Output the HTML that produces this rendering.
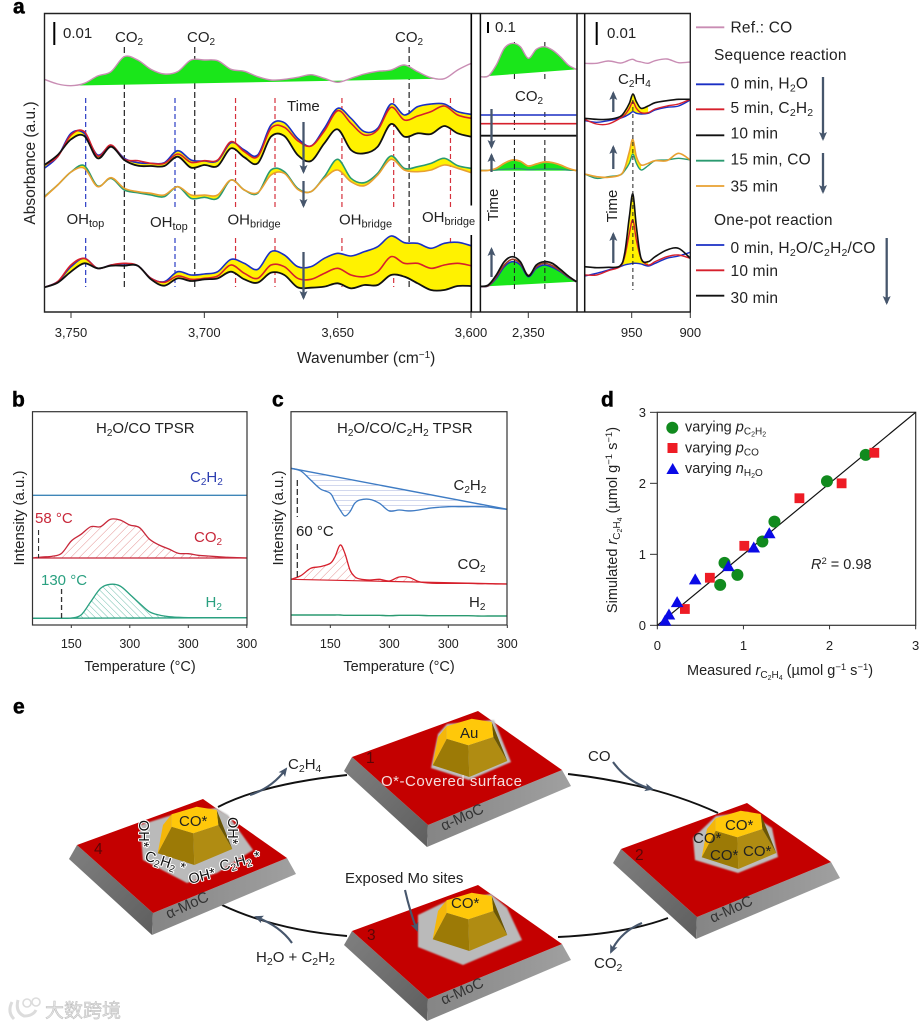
<!DOCTYPE html>
<html lang="en">
<head>
<meta charset="utf-8">
<title>Absorbance, TPSR, kinetics and reaction cycle figure</title>
<style>
html,body{margin:0;padding:0;background:#fff;width:921px;height:1027px;overflow:hidden}
svg{display:block;font-family:"Liberation Sans","Noto Sans CJK SC",sans-serif;fill:#222}
text{stroke:none}
.a{font-size:15px}
.lg{font-size:15.5px;letter-spacing:.2px}
.tick{font-size:12.5px}
.axt{font-size:14.5px}
.pl{font-size:21px;font-weight:700;fill:#000;stroke:#000;stroke-width:.5px}
.e{font-size:15px}
.halo{paint-order:stroke;stroke:#fff;stroke-width:2px;stroke-linejoin:round;fill:#111;font-size:14.5px}
</style>
</head>
<body>
<svg id="figure" xmlns="http://www.w3.org/2000/svg" width="921" height="1027" viewBox="0 0 921 1027">
<defs>
<pattern id="hatchRed" patternUnits="userSpaceOnUse" width="6" height="6" patternTransform="rotate(-45)"><line x1="0" y1="0" x2="6" y2="0" stroke="#d77" stroke-width="0.8"/></pattern>
<pattern id="hatchGreen" patternUnits="userSpaceOnUse" width="4.5" height="4.5" patternTransform="rotate(45)"><line x1="0" y1="0" x2="4.5" y2="0" stroke="#4fb09a" stroke-width="0.8"/></pattern>
<pattern id="hatchBlue" patternUnits="userSpaceOnUse" width="6" height="5"><line x1="0" y1="0" x2="6" y2="0" stroke="#8f9ed6" stroke-width="0.8"/></pattern>
<marker id="headDark" markerWidth="10" markerHeight="9" refX="7" refY="4" orient="auto" markerUnits="userSpaceOnUse"><path d="M0,0 L9,4 L0,8 L2,4 Z" fill="#46566c"/></marker>
<linearGradient id="sideL" x1="0" y1="0" x2="1" y2="1"><stop offset="0" stop-color="#808080"/><stop offset="1" stop-color="#5e5e5e"/></linearGradient>
<linearGradient id="sideR" x1="0" y1="0" x2="1" y2="0"><stop offset="0" stop-color="#858585"/><stop offset="1" stop-color="#a0a0a0"/></linearGradient>
<filter id="soft" x="-10%" y="-10%" width="120%" height="120%"><feGaussianBlur stdDeviation="0.9"/></filter>
<g id="slab">
<polygon points="77,845 153,913 152,935 69,859" fill="url(#sideL)"/>
<polygon points="153,913 287,858 296,874 152,935" fill="url(#sideR)"/>
<polygon points="77,845 203,799 287,858 153,913" fill="#c40000"/>
</g>
<g id="pyramid">
<polygon points="171.7,826.7 193.3,833.3 194.3,865 157.7,853.3" fill="#9c7a06"/>
<polygon points="193.3,833.3 218.3,825 232.3,849 194.3,865" fill="#b08c12"/>
<polygon points="216.7,810 232.3,849 218.3,825" fill="#6a5604"/>
<polygon points="171.7,814.3 163,825 157.7,853.3 171.7,826.7" fill="#f4b70a"/>
<polygon points="171.7,814.3 196.7,806.7 216.7,810 218.3,825 193.3,833.3 171.7,826.7" fill="#ffc80a"/>
</g>
</defs>

<!-- PANEL A -->
<text class="pl" x="13" y="13.5">a</text>
<g id="a-dashes"></g>
<g id="a-series"></g>
<g stroke="#222" fill="none">
<path d="M44.5,13.5 H690.3 V312 H44.5 Z" stroke-width="1.4"/>
<path d="M471.3,13.5 V205.5 M471.3,235 V312" stroke="#000" stroke-width="1.6"/>
<path d="M480.4,13.5 V312 M577,13.5 V312 M584.7,13.5 V312" stroke="#111" stroke-width="1.5"/>
</g>
<g id="a-axis"></g>
<text class="axt" x="297" y="363" style="font-size:15.5px">Wavenumber (cm<tspan dy="-5" font-size="10">−1</tspan><tspan dy="5">)</tspan></text>
<text class="a" transform="translate(35,163) rotate(-90)" text-anchor="middle" style="font-size:15.5px">Absorbance (a.u.)</text>

<g stroke="#000" stroke-width="2">
<line x1="54.3" y1="22" x2="54.3" y2="45"/>
<line x1="488" y1="22" x2="488" y2="33"/>
<line x1="596.7" y1="22" x2="596.7" y2="45"/>
</g>
<g class="a">
<text class="a" x="63" y="38">0.01</text>
<text class="a" x="495" y="32">0.1</text>
<text class="a" x="607" y="38">0.01</text>
<text class="a" x="115" y="42">CO<tspan dy="3" font-size="10">2</tspan></text>
<text class="a" x="187" y="42">CO<tspan dy="3" font-size="10">2</tspan></text>
<text class="a" x="395" y="42">CO<tspan dy="3" font-size="10">2</tspan></text>
<text class="a" x="515" y="101">CO<tspan dy="3" font-size="10">2</tspan></text>
<text class="a" x="618" y="84">C<tspan dy="3" font-size="10">2</tspan><tspan dy="-3">H</tspan><tspan dy="3" font-size="10">4</tspan></text>
<text class="a" x="287" y="111">Time</text>
<text class="a" transform="translate(498,205) rotate(-90)" text-anchor="middle">Time</text>
<text class="a" transform="translate(617,206) rotate(-90)" text-anchor="middle">Time</text>
<text class="a" x="66.5" y="224">OH<tspan dy="3" font-size="11">top</tspan></text>
<text class="a" x="150" y="227">OH<tspan dy="3" font-size="11">top</tspan></text>
<text class="a" x="227.5" y="224.5">OH<tspan dy="3" font-size="11">bridge</tspan></text>
<text class="a" x="339" y="224.5">OH<tspan dy="3" font-size="11">bridge</tspan></text>
<text class="a" x="422" y="222">OH<tspan dy="3" font-size="11">bridge</tspan></text>
</g>
<g stroke="#46566c" stroke-width="2.3" fill="none">
<line x1="303.5" y1="122" x2="303.5" y2="172" marker-end="url(#headDark)"/>
<line x1="303.5" y1="181" x2="303.5" y2="206" marker-end="url(#headDark)"/>
<line x1="303.5" y1="252" x2="303.5" y2="298" marker-end="url(#headDark)"/>
<line x1="491.5" y1="109" x2="491.5" y2="147" marker-end="url(#headDark)"/>
<line x1="491.5" y1="172" x2="491.5" y2="155" marker-end="url(#headDark)"/>
<line x1="491.5" y1="277" x2="491.5" y2="249" marker-end="url(#headDark)"/>
<line x1="613.3" y1="112" x2="613.3" y2="93" marker-end="url(#headDark)"/>
<line x1="613.3" y1="169" x2="613.3" y2="147" marker-end="url(#headDark)"/>
<line x1="613.3" y1="263" x2="613.3" y2="234" marker-end="url(#headDark)"/>
<line x1="823" y1="77" x2="823" y2="139" marker-end="url(#headDark)"/>
<line x1="823" y1="153" x2="823" y2="192" marker-end="url(#headDark)"/>
<line x1="886.7" y1="238" x2="886.7" y2="303" marker-end="url(#headDark)"/>
</g>

<!-- PANEL A LEGEND -->
<g stroke-width="1.8">
<line x1="696" x2="724.3" y1="27.3" y2="27.3" stroke="#c98db4"/>
<line x1="696" x2="724.3" y1="84.3" y2="84.3" stroke="#1a2fc4"/>
<line x1="696" x2="724.3" y1="109.3" y2="109.3" stroke="#d6202c"/>
<line x1="696" x2="724.3" y1="135.3" y2="135.3" stroke="#111"/>
<line x1="696" x2="724.3" y1="160.7" y2="160.7" stroke="#2a9a70"/>
<line x1="696" x2="724.3" y1="186" y2="186" stroke="#e8a030"/>
<line x1="696" x2="724.3" y1="245" y2="245" stroke="#1a2fc4"/>
<line x1="696" x2="724.3" y1="270.3" y2="270.3" stroke="#d6202c"/>
<line x1="696" x2="724.3" y1="295.7" y2="295.7" stroke="#111"/>
<text class="lg" x="730.5" y="32.5">Ref.: CO</text>
<text class="lg" x="714" y="60">Sequence reaction</text>
<text class="lg" x="730.5" y="88.5">0 min, H<tspan dy="3" font-size="10.5">2</tspan><tspan dy="-3">O</tspan></text>
<text class="lg" x="730.5" y="113">5 min, C<tspan dy="3" font-size="10.5">2</tspan><tspan dy="-3">H</tspan><tspan dy="3" font-size="10.5">2</tspan></text>
<text class="lg" x="730.5" y="138.5">10 min</text>
<text class="lg" x="730.5" y="164.5">15 min, CO</text>
<text class="lg" x="730.5" y="191.5">35 min</text>
<text class="lg" x="714" y="225">One-pot reaction</text>
<text class="lg" x="730.5" y="253">0 min, H<tspan dy="3" font-size="10.5">2</tspan><tspan dy="-3">O/C</tspan><tspan dy="3" font-size="10.5">2</tspan><tspan dy="-3">H</tspan><tspan dy="3" font-size="10.5">2</tspan><tspan dy="-3">/CO</tspan></text>
<text class="lg" x="730.5" y="276">10 min</text>
<text class="lg" x="730.5" y="303">30 min</text>
</g>

<!-- PANEL B -->
<text class="pl" x="12" y="406.5">b</text>
<g id="b-plot"></g>
<rect x="32.5" y="411.7" width="214.5" height="213.3" fill="none" stroke="#333" stroke-width="1.2"/>
<g id="b-axis"></g>
<text class="a" x="96" y="433">H<tspan dy="3" font-size="10">2</tspan><tspan dy="-3">O/CO TPSR</tspan></text>
<text class="a" transform="translate(24,518) rotate(-90)" text-anchor="middle">Intensity (a.u.)</text>
<text class="axt" x="140" y="671" text-anchor="middle">Temperature (°C)</text>
<text class="a" x="190" y="482" fill="#2c3db0" style="fill:#2c3db0">C<tspan dy="3" font-size="10">2</tspan><tspan dy="-3">H</tspan><tspan dy="3" font-size="10">2</tspan></text>
<text class="a" x="35" y="523" style="fill:#c8283a">58 °C</text>
<text class="a" x="194" y="542" style="fill:#c8283a">CO<tspan dy="3" font-size="10">2</tspan></text>
<text class="a" x="41" y="585" style="fill:#2aa080">130 °C</text>
<text class="a" x="205.5" y="607" style="fill:#2aa080">H<tspan dy="3" font-size="10">2</tspan></text>

<!-- PANEL C -->
<text class="pl" x="272" y="406.5">c</text>
<g id="c-plot"></g>
<rect x="291" y="411.7" width="216" height="213.3" fill="none" stroke="#333" stroke-width="1.2"/>
<g id="c-axis"></g>
<text class="a" x="337" y="433">H<tspan dy="3" font-size="10">2</tspan><tspan dy="-3">O/CO/C</tspan><tspan dy="3" font-size="10">2</tspan><tspan dy="-3">H</tspan><tspan dy="3" font-size="10">2</tspan><tspan dy="-3"> TPSR</tspan></text>
<text class="a" transform="translate(283,518) rotate(-90)" text-anchor="middle">Intensity (a.u.)</text>
<text class="axt" x="399" y="671" text-anchor="middle">Temperature (°C)</text>
<text class="a" x="453.5" y="490">C<tspan dy="3" font-size="10">2</tspan><tspan dy="-3">H</tspan><tspan dy="3" font-size="10">2</tspan></text>
<text class="a" x="296" y="536">60 °C</text>
<text class="a" x="457.5" y="569">CO<tspan dy="3" font-size="10">2</tspan></text>
<text class="a" x="469" y="607">H<tspan dy="3" font-size="10">2</tspan></text>

<!-- PANEL D -->
<text class="pl" x="601" y="406.5">d</text>
<rect x="657.3" y="412.3" width="258.4" height="213" fill="none" stroke="#333" stroke-width="1.2"/>
<g id="d-plot"></g>
<text class="axt" transform="translate(617,520) rotate(-90)" text-anchor="middle">Simulated <tspan font-style="italic">r</tspan><tspan dy="3" font-size="10">C</tspan><tspan dy="2" font-size="7">2</tspan><tspan dy="-2" font-size="10">H</tspan><tspan dy="2" font-size="7">4</tspan><tspan dy="-5"> (µmol g</tspan><tspan dy="-5" font-size="9.5">−1</tspan><tspan dy="5"> s</tspan><tspan dy="-5" font-size="9.5">−1</tspan><tspan dy="5">)</tspan></text>
<text class="axt" x="687" y="675">Measured <tspan font-style="italic">r</tspan><tspan dy="3" font-size="10">C</tspan><tspan dy="2" font-size="7">2</tspan><tspan dy="-2" font-size="10">H</tspan><tspan dy="2" font-size="7">4</tspan><tspan dy="-5"> (µmol g</tspan><tspan dy="-5" font-size="9.5">−1</tspan><tspan dy="5"> s</tspan><tspan dy="-5" font-size="9.5">−1</tspan><tspan dy="5">)</tspan></text>
<text class="axt" x="811" y="569"><tspan font-style="italic">R</tspan><tspan dy="-5" font-size="9.5">2</tspan><tspan dy="5"> = 0.98</tspan></text>
<g>
<circle cx="672.3" cy="427.7" r="6" fill="#118a1e"/>
<rect x="667.5" y="443" width="10" height="10" fill="#ee1c25"/>
<polygon points="672.7,463 679,474 666.4,474" fill="#0a0ae6"/>
<text class="axt" x="685" y="431.5">varying <tspan font-style="italic">p</tspan><tspan dy="3" font-size="10">C</tspan><tspan dy="2" font-size="7">2</tspan><tspan dy="-2" font-size="10">H</tspan><tspan dy="2" font-size="7">2</tspan></text>
<text class="axt" x="685" y="452.5">varying <tspan font-style="italic">p</tspan><tspan dy="3" font-size="10">CO</tspan></text>
<text class="axt" x="685" y="473">varying <tspan font-style="italic">n</tspan><tspan dy="3" font-size="10">H</tspan><tspan dy="2" font-size="7">2</tspan><tspan dy="-2" font-size="10">O</tspan></text>
</g>

<!-- PANEL E -->
<text class="pl" x="13" y="713.5">e</text>
<g fill="none" stroke="#111" stroke-width="1.9">
<path d="M218,807 Q262,784 347,775"/>
<path d="M568,774 Q655,784 718,813"/>
<path d="M668,918 Q625,934 558,937"/>
<path d="M347,936 Q275,930 222,905"/>
</g>

<g transform="translate(275,-88)">
<use href="#slab"/>
<polygon points="163,822 156,856 194,868 236,850 219,808 172,812" fill="#bdbdbd" filter="url(#soft)"/>
<use href="#pyramid"/>
<text class="e" transform="translate(168.5,919) rotate(-24.5)" style="fill:#333">α-MoC</text>
</g>
<g transform="translate(544,4)">
<use href="#slab"/>
<polygon points="149,834 151,856 194,869 234,853 228,824 204,808 172,812" fill="#bdbdbd" filter="url(#soft)"/>
<use href="#pyramid"/>
<text class="e" transform="translate(168.5,919) rotate(-24.5)" style="fill:#333">α-MoC</text>
</g>
<g transform="translate(275,86)">
<use href="#slab"/>
<polygon points="143,829 143,861 188,879 247,854 232,822 216,808 172,815" fill="#bababa" filter="url(#soft)"/>
<use href="#pyramid"/>
<text class="e" transform="translate(168.5,919) rotate(-24.5)" style="fill:#333">α-MoC</text>
</g>
<g>
<use href="#slab"/>
<polygon points="140,825 143,860 187,883 217,873 253,850 228,815 216,808 172,815" fill="#bababa" filter="url(#soft)"/>
<use href="#pyramid"/>
<text class="e" transform="translate(168.5,919) rotate(-24.5)" style="fill:#333">α-MoC</text>
</g>

<g class="e">
<text class="e" x="366" y="763" style="fill:#5c0505;font-size:15.5px">1</text>
<text class="e" x="635" y="860" style="fill:#5c0505;font-size:15.5px">2</text>
<text class="e" x="367" y="940" style="fill:#5c0505;font-size:15.5px">3</text>
<text class="e" x="94" y="854" style="fill:#5c0505;font-size:15.5px">4</text>
<text class="e" x="460" y="738">Au</text>
<text class="e" x="381" y="786" textLength="141" style="fill:#f4dede">O*-Covered surface</text>
<text class="e" x="179" y="826">CO*</text>
<text class="e" x="451" y="908">CO*</text>
<text class="e" x="725" y="830">CO*</text>
<text class="e" x="693" y="843">CO*</text>
<text class="e" x="710" y="860">CO*</text>
<text class="e" x="743" y="856">CO*</text>
<text class="halo" transform="translate(139,820) rotate(90)">OH*</text>
<text class="halo" transform="translate(228,817) rotate(90)">OH*</text>
<text class="halo" transform="translate(144,860) rotate(18)">C<tspan dy="3" font-size="10">2</tspan><tspan dy="-3">H</tspan><tspan dy="3" font-size="10">2</tspan><tspan dy="-3"> *</tspan></text>
<text class="halo" transform="translate(190,884) rotate(-15)">OH*</text>
<text class="halo" transform="translate(221,871) rotate(-15)">C<tspan dy="3" font-size="10">2</tspan><tspan dy="-3">H</tspan><tspan dy="3" font-size="10">2</tspan><tspan dy="-3"> *</tspan></text>
<text class="e" x="288" y="769">C<tspan dy="3" font-size="10.5">2</tspan><tspan dy="-3">H</tspan><tspan dy="3" font-size="10.5">4</tspan></text>
<text class="e" x="588" y="761">CO</text>
<text class="e" x="594" y="968">CO<tspan dy="3" font-size="10.5">2</tspan></text>
<text class="e" x="256" y="962">H<tspan dy="3" font-size="10.5">2</tspan><tspan dy="-3">O + C</tspan><tspan dy="3" font-size="10.5">2</tspan><tspan dy="-3">H</tspan><tspan dy="3" font-size="10.5">2</tspan></text>
<text class="e" x="345" y="883">Exposed Mo sites</text>
</g>
<g fill="none" stroke="#46566c" stroke-width="2.1">
<path d="M250,795 Q272,788 286,769" marker-end="url(#headDark)"/>
<path d="M613,762 Q628,783 652,789" marker-end="url(#headDark)"/>
<path d="M642,923 Q620,932 611,952" marker-end="url(#headDark)"/>
<path d="M292,943 Q280,926 256,917" marker-end="url(#headDark)"/>
<path d="M405,890 Q410,912 417,930" marker-end="url(#headDark)"/>
</g>

<!-- WATERMARK -->
<g>
<path d="M12,1002 Q7,1012 14,1019 M18,1000 Q15,1012 24,1016 Q33,1016 36,1010" fill="none" stroke="#dcdcdc" stroke-width="3"/>
<circle cx="27" cy="1003" r="4" fill="none" stroke="#dcdcdc" stroke-width="1.6"/>
<circle cx="36" cy="1002" r="4" fill="none" stroke="#dcdcdc" stroke-width="1.6"/>
<text x="45" y="1017" style="font-family:'Liberation Sans','Noto Sans CJK SC',sans-serif;font-size:19px;fill:#e4e4e4;stroke:#bbb;stroke-width:0.5">大数跨境</text>
</g>

<script>
/* PANEL A DATA: intensities in offset a.u. above the axis floor */
const aWavenumbers = [3760,3755,3750,3745,3740,3735,3730,3725,3720,3715,3710,3705,3700,3695,3690,3685,3680,3675,3670,3665,3660,3655,3650,3645,3640,3635,3630,3625,3620,3615,3610,3605,3600];
const aRefCO = [698,684,679,686,708,721,766,756,728,714,721,756,756,754,728,722,706,696,698,704,712,701,689,701,714,722,726,741,721,703,700,726,746];
const aSeq0 = [431,466,536,536,471,499,461,448,446,448,484,456,453,454,508,486,471,561,568,521,498,551,611,581,541,551,624,591,616,624,624,601,593];
const aSeq5 = [441,466,531,541,468,501,458,454,446,446,474,449,454,456,511,481,466,551,554,514,498,543,604,566,531,546,614,576,588,601,618,591,581];
const aSeq10 = [441,471,518,528,461,496,456,439,438,438,466,433,441,438,491,464,446,526,528,471,453,506,548,486,476,496,564,526,536,534,558,536,526];
const aSeq15 = [346,381,420,439,378,401,366,358,351,346,376,341,344,341,396,366,356,426,421,371,361,406,458,401,388,416,468,431,436,446,461,439,431];
const aSeq35 = [344,381,420,431,376,403,371,361,356,351,376,351,351,351,396,366,358,411,416,368,361,401,426,391,379,411,458,426,421,426,441,431,418];
const aPot0 = [74,91,136,161,131,141,141,139,101,91,121,111,114,121,158,146,128,181,171,136,136,161,176,168,181,196,228,208,206,191,206,209,199];
const aPot10 = [74,91,141,161,131,141,146,139,101,89,108,98,101,108,141,116,101,141,136,101,98,116,131,111,106,121,166,146,146,131,141,146,139];
const aPot30 = [74,88,121,146,131,139,139,139,98,79,101,93,98,101,121,98,88,118,111,74,73,76,86,71,81,81,111,106,86,66,66,78,78];
const aCO2Peaks = [3730,3703.6,3623.2];
const aOHTopPeaks = [3744.5,3711];
const aOHBridgePeaks = [3688.3,3673.5,3648.4,3629,3607.7];
const aTicks = [3750,3700,3650,3600];
const aTickLabels = ["3,750","3,700","3,650","3,600"];

const co2Wavenumbers = [2368,2365,2362,2359,2356,2353,2350,2347,2344,2341,2338,2335,2332];
const co2Ref = [706,708,741,791,806,796,761,788,796,786,766,741,728];
const co2Seq0 = [591,591,591,591,591,591,591,591,591,591,591,591,591];
const co2Seq5 = [565,565,565,565,565,565,565,565,565,565,565,565,565];
const co2Seq10 = [529,529,529,529,529,529,529,529,529,529,529,529,529];
const co2Seq15 = [425,425,426,428,430,430,427,428,429,429,428,426,425];
const co2Seq35 = [424,425,431,446,456,452,438,444,450,448,441,431,424];
const co2Pot0 = [76,78,101,136,151,141,106,131,141,134,121,104,91];
const co2Pot10 = [77,79,106,141,158,146,110,136,146,139,124,106,91];
const co2Pot30 = [77,81,111,151,166,151,108,141,151,146,128,108,91];
const co2Peaks = [2355.2,2343.8];
const co2Ticks = [2350];
const co2TickLabels = ["2,350"];

const c2h4Wavenumbers = [990,980,970,960,956,952,949,946,942,936,930,920,910,900];
const c2h4Ref = [746,746,753,747,750,756,758,753,750,746,754,759,748,750];
const c2h4Seq0 = [574,569,574,581,586,594,601,596,594,596,606,614,618,636];
const c2h4Seq5 = [578,564,564,581,591,611,631,611,598,598,609,618,624,638];
const c2h4Seq10 = [581,578,578,586,601,626,654,631,611,618,628,634,638,638];
const c2h4Seq15 = [414,401,406,411,424,446,474,446,426,439,454,456,461,456];
const c2h4Seq35 = [414,406,404,411,431,481,518,466,441,446,454,454,476,456];
const c2h4Pot0 = [108,116,126,136,141,144,146,146,144,138,146,161,168,179];
const c2h4Pot10 = [111,111,124,136,166,236,276,216,161,141,151,166,171,161];
const c2h4Pot30 = [136,133,134,138,176,286,354,256,161,151,166,186,191,161];
const c2h4Peak = [949];
const c2h4Ticks = [950,900];
const c2h4TickLabels = ["950","900"];

/* PANEL B DATA */
const bTemps = [50,75,100,125,150,175,200,225,250,275,300,325,350,375,400,425,450,475,500,525,550,575,600];
const bC2H2 = [389,389,389,389,389,389,389,389,389,389,389,389,389,389,389,389,389,389,389,389,389,389,389];
const bCO2 = [201,204,206,215,252,272,295,295,317,315,300,292,258,240,228,215,214,209,207,205,203,202,201];
const bH2 = [20,20,20,20,21,30,70,110,122,117,92,65,40,30,25,23,22,22,22,22,22,22,22];
const bOnsetCO2 = [66];
const bOnsetH2 = [125];

/* PANEL C DATA */
const cTemps = [50,75,100,125,150,162,175,187,200,212,225,250,275,300,325,350,375,400,425,450,475,500,525,550,575,600];
const cC2H2 = [470,462,435,408,395,370,345,327,340,365,375,377,365,342,345,342,345,350,353,355,355,355,355,354,350,347];
const cCO2 = [137,148,170,175,185,205,240,215,165,145,138,135,137,132,144,143,130,126,125,125,125,125,124,124,123,123];
const cH2 = [30,30,30,30,30,30,30,29,29,29,29,29,29,28,29,29,29,28,28,28,28,28,27,27,27,27];
const cOnset = [66];

const tempTicks = [150,300,450,600];
const tempTickLabels = ["150","300","300","300"];

/* PANEL D DATA */
const dCircleMeasured = [0.73,0.78,0.93,1.22,1.36,1.97,2.42];
const dCircleSimulated = [0.57,0.88,0.71,1.18,1.46,2.03,2.40];
const dSquareMeasured = [0.32,0.61,1.01,1.65,2.14,2.52];
const dSquareSimulated = [0.23,0.67,1.12,1.79,2.00,2.43];
const dTriangleMeasured = [0.09,0.135,0.23,0.44,0.825,1.12,1.30];
const dTriangleSimulated = [0.06,0.145,0.32,0.64,0.826,1.09,1.29];
const dTicks = [0,1,2,3];
const dTickLabels = ["0","1","2","3"];

const NS = "http://www.w3.org/2000/svg";
const COL = {blue:"#1a2fc4",red:"#d6202c",black:"#111111",green:"#2a9a70",orange:"#e8a030",pink:"#c98db4",fillG:"#1ae61a",fillY:"#fff200"};

const xA = w => 71 + (3750 - w) * 2.6667;
const xCO2 = w => 528.3 + (2350 - w) * 2.6667;
const xC2H4 = w => 631.7 + (950 - w) * 1.172;
const yA = v => 312 - v / 3;
const xB = t => 32.3 + (t - 50) * 0.39;
const xC = t => 291 + (t - 50) * 0.3933;
const yT = v => 625 - v / 3;
const xD = v => 657.33 + v * 86.11;
const yD = v => 625.33 - v * 71;

function mk(tag, parent) {
  const el = document.createElementNS(NS, tag);
  parent.appendChild(el);
  return el;
}
function segs(p) {
  let d = "";
  for (let i = 0; i < p.length - 1; i++) {
    const p0 = p[i - 1] || p[i], p1 = p[i], p2 = p[i + 1], p3 = p[i + 2] || p2;
    const t = 1 / 6;
    d += "C" + (p1[0] + (p2[0] - p0[0]) * t).toFixed(2) + "," + (p1[1] + (p2[1] - p0[1]) * t).toFixed(2) + " " +
         (p2[0] - (p3[0] - p1[0]) * t).toFixed(2) + "," + (p2[1] - (p3[1] - p1[1]) * t).toFixed(2) + " " +
         p2[0].toFixed(2) + "," + p2[1].toFixed(2);
  }
  return d;
}
function toPts(xs, vs, fx, fy) { return xs.map((x, i) => [fx(x), fy(vs[i])]); }
function line(g, name, xs, vs, fx, fy, color, width) {
  const p = toPts(xs, vs, fx, fy);
  const el = mk("path", g);
  el.setAttribute("d", "M" + p[0][0] + "," + p[0][1] + segs(p));
  el.setAttribute("fill", "none");
  el.setAttribute("stroke", color);
  el.setAttribute("stroke-width", width);
  el.setAttribute("stroke-linejoin", "round");
  
  
}
function bandFill(g, name, xs, top, bottom, fx, fy, color, from, to) {
  const a = toPts(xs, top, fx, fy).slice(from, to + 1);
  const b = toPts(xs, bottom, fx, fy).slice(from, to + 1).reverse();
  const el = mk("path", g);
  el.setAttribute("d", "M" + a[0][0] + "," + a[0][1] + segs(a) + "L" + b[0][0] + "," + b[0][1] + segs(b) + "Z");
  el.setAttribute("fill", color);
  el.setAttribute("stroke", "none");
  
  
}
function chordFill(g, name, xs, vs, fx, fy, color, from, to) {
  const a = toPts(xs, vs, fx, fy).slice(from, to + 1);
  const el = mk("path", g);
  el.setAttribute("d", "M" + a[0][0] + "," + a[0][1] + segs(a) + "Z");
  el.setAttribute("fill", color);
  el.setAttribute("stroke", "none");
  
  
}
function chord(g, name, xs, vs, fx, fy, color, width) {
  const n = xs.length - 1;
  const el = mk("line", g);
  el.setAttribute("x1", fx(xs[0]));
  el.setAttribute("y1", fy(vs[0]));
  el.setAttribute("x2", fx(xs[n]));
  el.setAttribute("y2", fy(vs[n]));
  el.setAttribute("stroke", color);
  el.setAttribute("stroke-width", width);
  
  
}
function guide(g, name, x, y1, y2, color, width, dash) {
  const el = mk("line", g);
  el.setAttribute("x1", x);
  el.setAttribute("x2", x);
  el.setAttribute("y1", y1);
  el.setAttribute("y2", y2);
  el.setAttribute("stroke", color);
  el.setAttribute("stroke-width", width);
  el.setAttribute("stroke-dasharray", dash);
  
  
}
function xTicks(g, name, ticks, labels, fx, y0, len, labelY, size) {
  ticks.forEach((t, i) => {
    const tk = mk("line", g);
    tk.setAttribute("x1", fx(t));
    tk.setAttribute("x2", fx(t));
    tk.setAttribute("y1", y0);
    tk.setAttribute("y2", y0 + len);
    tk.setAttribute("stroke", "#333");
    tk.setAttribute("stroke-width", "1");
    
    
    const tx = mk("text", g);
    tx.setAttribute("x", fx(t));
    tx.setAttribute("y", labelY);
    tx.setAttribute("text-anchor", "middle");
    tx.setAttribute("font-size", size);
    tx.textContent = labels[i];
    
    
  });
}

/* Draw panel A guides */
const gd = document.getElementById("a-dashes");
aCO2Peaks.forEach(w => guide(gd, "co2-guide", xA(w), 47, 287, "#222", 1.2, "6 3"));
aOHTopPeaks.forEach(w => {
  guide(gd, "oh-top-guide-upper", xA(w), 98, 207, "#2a3cc4", 1.2, "5 3");
  guide(gd, "oh-top-guide-lower", xA(w), 238, 287, "#2a3cc4", 1.2, "5 3");
});
aOHBridgePeaks.forEach(w => {
  guide(gd, "oh-bridge-guide-upper", xA(w), 98, 207, "#d6303c", 1.2, "5 3");
  guide(gd, "oh-bridge-guide-lower", xA(w), 238, 287, "#d6303c", 1.2, "5 3");
});

/* Draw panel A series */
const gs = document.getElementById("a-series");
chordFill(gs, "ref-co-fill", aWavenumbers, aRefCO, xA, yA, COL.fillG, 2, 30);
line(gs, "ref-co-series", aWavenumbers, aRefCO, xA, yA, COL.pink, 1.4);
bandFill(gs, "sequence-band-upper", aWavenumbers, aSeq0, aSeq10, xA, yA, COL.fillY, 0, 32);
line(gs, "series-0-min", aWavenumbers, aSeq0, xA, yA, COL.blue, 1.6);
line(gs, "series-5-min", aWavenumbers, aSeq5, xA, yA, COL.red, 1.6);
line(gs, "series-10-min", aWavenumbers, aSeq10, xA, yA, COL.black, 1.8);
bandFill(gs, "sequence-band-lower", aWavenumbers, aSeq15, aSeq35, xA, yA, COL.fillY, 0, 32);
line(gs, "series-15-min", aWavenumbers, aSeq15, xA, yA, COL.green, 1.6);
line(gs, "series-35-min", aWavenumbers, aSeq35, xA, yA, COL.orange, 1.6);
bandFill(gs, "one-pot-band", aWavenumbers, aPot0, aPot30, xA, yA, COL.fillY, 0, 32);
line(gs, "series-onepot-0-min", aWavenumbers, aPot0, xA, yA, COL.blue, 1.6);
line(gs, "series-onepot-10-min", aWavenumbers, aPot10, xA, yA, COL.red, 1.6);
line(gs, "series-onepot-30-min", aWavenumbers, aPot30, xA, yA, COL.black, 1.8);

/* Draw CO2 sub-panel */
co2Peaks.forEach(w => {
  guide(gd, "co2-region-guide-top", xCO2(w), 42, 82, "#222", 1.1, "5 3");
  guide(gd, "co2-region-guide-mid", xCO2(w), 112, 130, "#222", 1.1, "5 3");
});
const last = co2Wavenumbers.length - 1;
chordFill(gs, "co2-ref-fill", co2Wavenumbers, co2Ref, xCO2, yA, COL.fillG, 0, last);
line(gs, "co2-ref-series", co2Wavenumbers, co2Ref, xCO2, yA, COL.pink, 1.4);
line(gs, "co2-series-0-min", co2Wavenumbers, co2Seq0, xCO2, yA, COL.blue, 1.6);
line(gs, "co2-series-5-min", co2Wavenumbers, co2Seq5, xCO2, yA, COL.red, 1.6);
line(gs, "co2-series-10-min", co2Wavenumbers, co2Seq10, xCO2, yA, COL.black, 1.8);
chordFill(gs, "co2-seq-fill", co2Wavenumbers, co2Seq35, xCO2, yA, COL.fillG, 0, last);
line(gs, "co2-series-15-min", co2Wavenumbers, co2Seq15, xCO2, yA, COL.green, 1.4);
line(gs, "co2-series-35-min", co2Wavenumbers, co2Seq35, xCO2, yA, COL.orange, 1.8);
chordFill(gs, "co2-onepot-fill", co2Wavenumbers, co2Pot0, xCO2, yA, COL.fillG, 0, last);
line(gs, "co2-series-onepot-0-min", co2Wavenumbers, co2Pot0, xCO2, yA, COL.blue, 1.5);
line(gs, "co2-series-onepot-10-min", co2Wavenumbers, co2Pot10, xCO2, yA, "#a0402a", 1.7);
line(gs, "co2-series-onepot-30-min", co2Wavenumbers, co2Pot30, xCO2, yA, COL.black, 1.7);
co2Peaks.forEach(w => guide(gs, "co2-region-guide-lower", xCO2(w), 140, 290, "#222", 1.1, "5 3"));

/* Draw C2H4 sub-panel */
line(gs, "c2h4-ref-series", c2h4Wavenumbers, c2h4Ref, xC2H4, yA, COL.pink, 1.4);
bandFill(gs, "c2h4-band-upper", c2h4Wavenumbers, c2h4Seq10, c2h4Seq0, xC2H4, yA, COL.fillY, 3, 9);
line(gs, "c2h4-series-0-min", c2h4Wavenumbers, c2h4Seq0, xC2H4, yA, COL.blue, 1.4);
line(gs, "c2h4-series-5-min", c2h4Wavenumbers, c2h4Seq5, xC2H4, yA, COL.red, 1.4);
line(gs, "c2h4-series-10-min", c2h4Wavenumbers, c2h4Seq10, xC2H4, yA, COL.black, 1.6);
bandFill(gs, "c2h4-band-mid", c2h4Wavenumbers, c2h4Seq35, c2h4Seq15, xC2H4, yA, COL.fillY, 3, 8);
line(gs, "c2h4-series-15-min", c2h4Wavenumbers, c2h4Seq15, xC2H4, yA, COL.green, 1.4);
line(gs, "c2h4-series-35-min", c2h4Wavenumbers, c2h4Seq35, xC2H4, yA, COL.orange, 1.6);
bandFill(gs, "c2h4-band-lower", c2h4Wavenumbers, c2h4Pot30, c2h4Pot0, xC2H4, yA, COL.fillY, 3, 9);
line(gs, "c2h4-series-onepot-0-min", c2h4Wavenumbers, c2h4Pot0, xC2H4, yA, COL.blue, 1.4);
line(gs, "c2h4-series-onepot-10-min", c2h4Wavenumbers, c2h4Pot10, xC2H4, yA, COL.red, 1.4);
line(gs, "c2h4-series-onepot-30-min", c2h4Wavenumbers, c2h4Pot30, xC2H4, yA, COL.black, 1.6);
c2h4Peak.forEach(w => guide(gs, "c2h4-guide", xC2H4(w), 100, 290, "#222", 1, "4 3"));

/* Panel A axes */
const ga = document.getElementById("a-axis");
xTicks(ga, "wavenumber", aTicks, aTickLabels, xA, 312, 6, 337, 13);
xTicks(ga, "co2-wavenumber", co2Ticks, co2TickLabels, xCO2, 312, 6, 337, 13);
xTicks(ga, "c2h4-wavenumber", c2h4Ticks, c2h4TickLabels, xC2H4, 312, 6, 337, 13);

/* Panel B */
const gb = document.getElementById("b-plot");
chordFill(gb, "b-co2-hatch", bTemps, bCO2, xB, yT, "url(#hatchRed)", 0, bTemps.length - 1);
chordFill(gb, "b-h2-hatch", bTemps, bH2, xB, yT, "url(#hatchGreen)", 0, bTemps.length - 1);
line(gb, "b-c2h2-trace", bTemps, bC2H2, xB, yT, "#3f86b8", 1.3);
line(gb, "b-co2-trace", bTemps, bCO2, xB, yT, "#c8283a", 1.3);
chord(gb, "b-co2-baseline", bTemps, bCO2, xB, yT, "#c8283a", 1.3);
line(gb, "b-h2-trace", bTemps, bH2, xB, yT, "#2aa080", 1.3);
chord(gb, "b-h2-baseline", bTemps, bH2, xB, yT, "#2aa080", 1.3);
bOnsetCO2.forEach(t => guide(gb, "b-co2-onset-guide", xB(t), 530, 558, "#333", 1.1, "5 3"));
bOnsetH2.forEach(t => guide(gb, "b-h2-onset-guide", xB(t), 589, 618, "#333", 1.3, "5 3"));
xTicks(document.getElementById("b-axis"), "b-temperature", tempTicks, tempTickLabels, xB, 625, 3, 648, 12.5);

/* Panel C */
const gc = document.getElementById("c-plot");
chordFill(gc, "c-c2h2-hatch", cTemps, cC2H2, xC, yT, "url(#hatchBlue)", 0, cTemps.length - 1);
chordFill(gc, "c-co2-hatch", cTemps, cCO2, xC, yT, "url(#hatchRed)", 0, cTemps.length - 1);
line(gc, "c-c2h2-trace", cTemps, cC2H2, xC, yT, "#3f7cc4", 1.3);
chord(gc, "c-c2h2-baseline", cTemps, cC2H2, xC, yT, "#3f7cc4", 1.4);
line(gc, "c-co2-trace", cTemps, cCO2, xC, yT, "#d6202c", 1.3);
chord(gc, "c-co2-baseline", cTemps, cCO2, xC, yT, "#d6202c", 1.2);
line(gc, "c-h2-trace", cTemps, cH2, xC, yT, "#2a9a70", 1.4);
cOnset.forEach(t => {
  guide(gc, "c-onset-guide-upper", xC(t), 480, 517, "#222", 1.2, "6 3");
  guide(gc, "c-onset-guide-lower", xC(t), 544, 579, "#222", 1.2, "6 3");
});
xTicks(document.getElementById("c-axis"), "c-temperature", tempTicks, tempTickLabels, xC, 625, 3, 648, 12.5);

/* Panel D */
const dp = document.getElementById("d-plot");
xTicks(dp, "measured", dTicks, dTickLabels, xD, 625.3, 4, 650, 13);
dTicks.forEach((t, i) => {
  const tk = mk("line", dp);
  tk.setAttribute("x1", 650);
  tk.setAttribute("x2", 657.3);
  tk.setAttribute("y1", yD(t));
  tk.setAttribute("y2", yD(t));
  tk.setAttribute("stroke", "#333");
  
  
  const tx = mk("text", dp);
  tx.setAttribute("x", 646);
  tx.setAttribute("y", yD(t) + 4.5);
  tx.setAttribute("text-anchor", "end");
  tx.setAttribute("font-size", 13);
  tx.textContent = dTickLabels[i];
  
  
});
const fit = mk("line", dp);
fit.setAttribute("x1", xD(0));
fit.setAttribute("y1", yD(0));
fit.setAttribute("x2", xD(3));
fit.setAttribute("y2", yD(3));
fit.setAttribute("stroke", "#111");
fit.setAttribute("stroke-width", "1.2");


dCircleMeasured.forEach((m, i) => {
  const c = mk("circle", dp);
  c.setAttribute("cx", xD(m));
  c.setAttribute("cy", yD(dCircleSimulated[i]));
  c.setAttribute("r", 6);
  c.setAttribute("fill", "#118a1e");
  
  
});
dSquareMeasured.forEach((m, i) => {
  const r = mk("rect", dp);
  r.setAttribute("x", xD(m) - 4.9);
  r.setAttribute("y", yD(dSquareSimulated[i]) - 4.9);
  r.setAttribute("width", 9.8);
  r.setAttribute("height", 9.8);
  r.setAttribute("fill", "#ee1c25");
  
  
});
dTriangleMeasured.forEach((m, i) => {
  const x = xD(m), y = yD(dTriangleSimulated[i]);
  const t = mk("polygon", dp);
  t.setAttribute("points", x + "," + (y - 6.5) + " " + (x + 6.3) + "," + (y + 4.5) + " " + (x - 6.3) + "," + (y + 4.5));
  t.setAttribute("fill", "#0a0ae6");
  
  
});
</script>
</svg>
</body>
</html>
